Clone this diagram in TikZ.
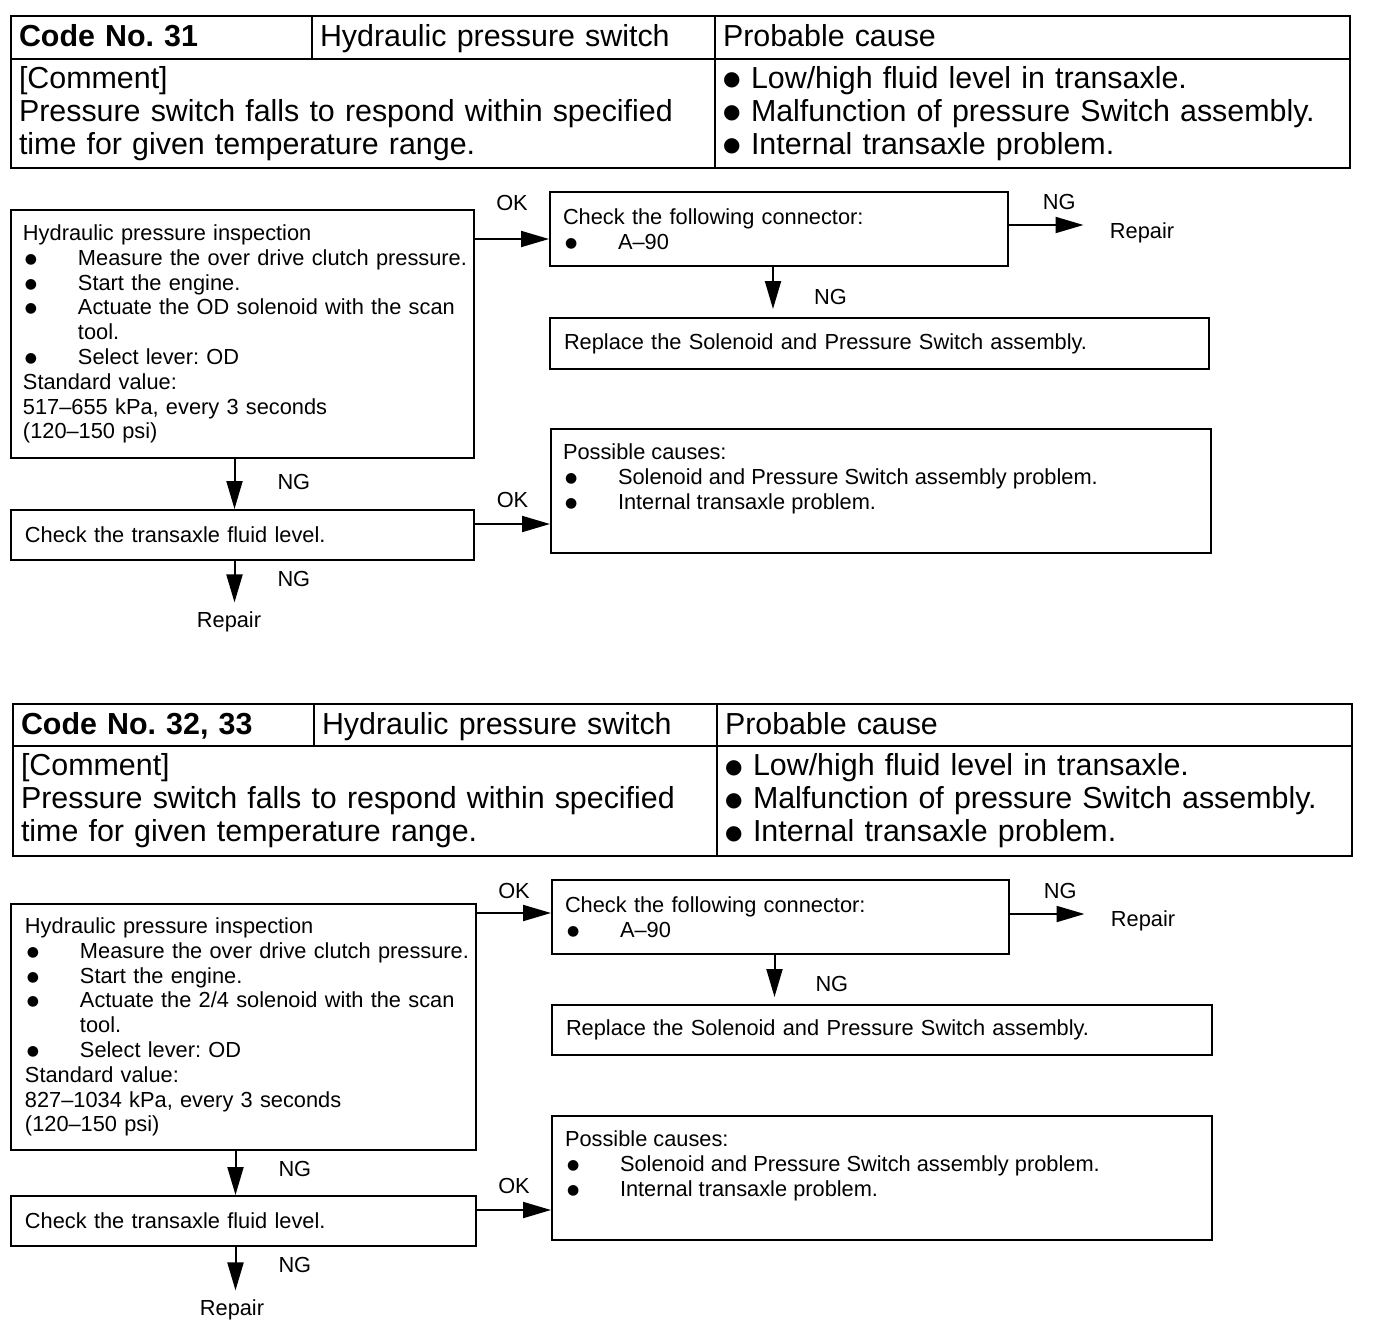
\documentclass[tikz,border=0pt]{standalone}
\usepackage{fontspec}
\setmainfont{Liberation Sans}
\newfontfamily\symfont{DejaVu Sans}
\usetikzlibrary{arrows.meta}
\frenchspacing

\newcommand\hdfont{\fontsize{15.2}{16.5}\selectfont}
\newcommand\flowfont{\fontsize{10.9}{12.4}\selectfont}
\newcommand\hdbul{\makebox[14pt][l]{\raisebox{1.4pt}{\symfont\fontsize{10}{10}\selectfont ●}}}
\newcommand\fbul{\raisebox{1pt}{\symfont\fontsize{7}{7}\selectfont ●}}
\newcommand\itm[1]{\mbox{\makebox[27.5pt][l]{\hspace{1pt}\fbul}#1}}

\begin{document}
\begin{tikzpicture}[x=0.5pt, y=-0.5pt,
      hdcell/.style = {draw, line width=1pt, anchor=north west,
        inner xsep=4pt, inner ysep=0pt, align=left, font=\hdfont},
      hdtop/.style = {hdcell, text height=11.5pt, text depth=2.5pt},
      flowbox/.style = {draw, line width=1pt, anchor=north west,
        inner xsep=6.5pt, inner ysep=0pt, align=left, font=\flowfont},
      lbl/.style = {inner sep=0pt, font=\flowfont},
      flow/.style = {line width=1pt, -{Triangle[length=14pt, width=8pt]}}]
    \useasboundingbox (0,0) rectangle (1376,1328);

    % Code No. 31
    \node[hdtop, text width=142.5pt, minimum height=21.5pt] (code1) at (10,15) {\textbf{Code No. 31}};
    \node[hdtop, text width=193.5pt, minimum height=21.5pt] (title1) at (311,15) {Hydraulic pressure switch};
    \node[hdtop, text width=309.5pt, minimum height=21.5pt] (prob1) at (714,15) {Probable cause};
    \node[hdcell, text width=344pt, minimum height=54.5pt] (comm1) at (10,58)
      {[Comment]\\Pressure switch falls to respond within specified\\time for given temperature range.};
    \node[hdcell, text width=309.5pt, minimum height=54.5pt] (list1) at (714,58)
      {\hdbul Low/high fluid level in transaxle.\\\hdbul Malfunction of pressure Switch assembly.\\\hdbul Internal transaxle problem.};

    \node[flowbox, inner xsep=6pt, text width=219.5pt, minimum height=124pt] (insp1) at (10,209)
      {Hydraulic pressure inspection\\
       \itm{Measure the over drive clutch pressure.}\\
       \itm{Start the engine.}\\
       \itm{Actuate the OD solenoid with the scan}\\
       \hspace*{27.5pt}tool.\\
       \itm{Select lever: OD}\\
       Standard value:\\
       517–655 kPa, every 3 seconds\\
       (120–150 psi)};
    \node[flowbox, inner xsep=7pt, text width=217.5pt, minimum height=25pt] (fluid1) at (10,509)
      {Check the transaxle fluid level.};
    \node[flowbox, text width=216pt, minimum height=37pt] (conn1) at (549,191)
      {Check the following connector:\\\itm{A–90}};
    \node[flowbox, inner xsep=7pt, text width=315.5pt, minimum height=25.5pt] (repl1) at (549,317)
      {Replace the Solenoid and Pressure Switch assembly.};
    \node[flowbox, inner xsep=6pt, inner ysep=7.5pt] (cause1) at (550,428)
      {\parbox[c][47pt][t]{318pt}{Possible causes:\\
       \itm{Solenoid and Pressure Switch assembly problem.}\\
       \itm{Internal transaxle problem.}}};
    \node[lbl] (rep1a) at (1142,233) {Repair};
    \node[lbl] (rep1b) at (229,622) {Repair};

    \coordinate (ok1) at ([yshift=-5pt]conn1.west);
    \draw[flow] (ok1 -| insp1.east) -- node[lbl, above=13.5pt] {OK} (ok1);
    \coordinate (ng1) at ([yshift=2pt]conn1.east);
    \draw[flow, shorten >=13pt] (ng1) -- node[lbl, above=7pt] {NG} (ng1 -| rep1a.west);
    \coordinate (ng2) at ([xshift=-3pt]conn1.south);
    \draw[flow, shorten >=4pt] (ng2) -- node[lbl, pos=0.6, right=20pt] {NG} (ng2 |- repl1.north);
    \coordinate (ng3) at ([xshift=-4pt]insp1.south);
    \draw[flow] (ng3) -- node[lbl, pos=0.45, right=21pt] {NG} (ng3 |- fluid1.north);
    \coordinate (ok2) at ([yshift=5.5pt]fluid1.east);
    \draw[flow] (ok2) -- node[lbl, above=7.5pt] {OK} (ok2 -| cause1.west);
    \draw[flow, shorten >=4.5pt] (ng3 |- fluid1.south) -- node[lbl, pos=0.35, right=21pt] {NG} (ng3 |- rep1b.north);

    % Code No. 32, 33
    \node[hdtop, text width=142.5pt, minimum height=21pt] (code2) at (12,703) {\textbf{Code No. 32, 33}};
    \node[hdtop, text width=193.5pt, minimum height=21pt] (title2) at (313,703) {Hydraulic pressure switch};
    \node[hdtop, text width=309.5pt, minimum height=21pt] (prob2) at (716,703) {Probable cause};
    \node[hdcell, text width=344pt, minimum height=55pt] (comm2) at (12,745)
      {[Comment]\\Pressure switch falls to respond within specified\\time for given temperature range.};
    \node[hdcell, text width=309.5pt, minimum height=55pt] (list2) at (716,745)
      {\hdbul Low/high fluid level in transaxle.\\\hdbul Malfunction of pressure Switch assembly.\\\hdbul Internal transaxle problem.};

    \node[flowbox, inner xsep=7pt, text width=218.5pt, minimum height=123pt] (insp2) at (10,903)
      {Hydraulic pressure inspection\\
       \itm{Measure the over drive clutch pressure.}\\
       \itm{Start the engine.}\\
       \itm{Actuate the 2/4 solenoid with the scan}\\
       \hspace*{27.5pt}tool.\\
       \itm{Select lever: OD}\\
       Standard value:\\
       827–1034 kPa, every 3 seconds\\
       (120–150 psi)};
    \node[flowbox, inner xsep=7pt, text width=218.5pt, minimum height=25pt] (fluid2) at (10,1195)
      {Check the transaxle fluid level.};
    \node[flowbox, text width=215.5pt, minimum height=37pt] (conn2) at (551,879)
      {Check the following connector:\\\itm{A–90}};
    \node[flowbox, inner xsep=7pt, text width=316pt, minimum height=25pt] (repl2) at (551,1004)
      {Replace the Solenoid and Pressure Switch assembly.};
    \node[flowbox, inner ysep=7.5pt] (cause2) at (551,1115)
      {\parbox[c][47pt][t]{317pt}{Possible causes:\\
       \itm{Solenoid and Pressure Switch assembly problem.}\\
       \itm{Internal transaxle problem.}}};
    \node[lbl] (rep2a) at (1143,921) {Repair};
    \node[lbl] (rep2b) at (232,1310) {Repair};

    \coordinate (ok3) at ([yshift=2pt]conn2.west);
    \draw[flow] (ok3 -| insp2.east) -- node[lbl, above=6.5pt] {OK} (ok3);
    \coordinate (ng4) at ([yshift=1.5pt]conn2.east);
    \draw[flow, shorten >=13pt] (ng4) -- node[lbl, above=7pt] {NG} (ng4 -| rep2a.west);
    \coordinate (ng5) at ([xshift=-3pt]conn2.south);
    \draw[flow, shorten >=3.5pt] (ng5) -- node[lbl, pos=0.6, right=20pt] {NG} (ng5 |- repl2.north);
    \coordinate (ng6) at ([xshift=-4pt]insp2.south);
    \draw[flow] (ng6) -- node[lbl, pos=0.4, right=21pt] {NG} (ng6 |- fluid2.north);
    \coordinate (ok4) at ([yshift=5.5pt]fluid2.east);
    \draw[flow] (ok4) -- node[lbl, above=7.5pt] {OK} (ok4 -| cause2.west);
    \draw[flow, shorten >=4.5pt] (ng6 |- fluid2.south) -- node[lbl, pos=0.35, right=21pt] {NG} (ng6 |- rep2b.north);
  \end{tikzpicture}
\end{document}
